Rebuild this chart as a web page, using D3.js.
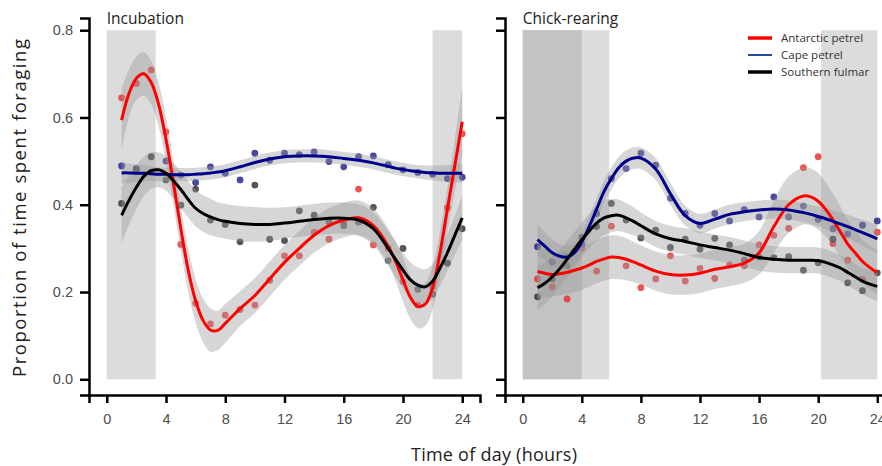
<!DOCTYPE html>
<html>
<head>
<meta charset="utf-8">
<script src="https://cdn.jsdelivr.net/npm/d3@7"></script>
<style>
body { margin: 0; background: #fff; }
svg { display: block; font-family: "Open Sans", "Noto Sans", sans-serif; }
.axis path, .axis line { stroke: #000; stroke-width: 2.5; }
.axis text { fill: #4d4d4d; font-size: 14.5px; }
</style>
</head>
<body>
<svg id="chart" width="882" height="466"></svg>
<script>
// hourly observations
let hours = [1, 2, 3, 4, 5, 6, 7, 8, 9, 10, 11, 12, 13, 14, 15, 16, 17, 18, 19, 20, 21, 22, 23, 24],
	// positions where the smoothed fits were read
	fitHours = [1, 1.5, 2, 2.5, 3, 3.5, 4, 4.5, 5, 5.5, 6, 6.5, 7, 7.5, 8, 9, 10, 11, 12, 13, 14, 15, 16, 17, 18, 19, 19.5, 20, 20.5, 21, 21.5, 22, 22.5, 23, 23.5, 24],
	xTicks = [0, 4, 8, 12, 16, 20, 24],
	yTicks = [0, 0.2, 0.4, 0.6, 0.8],
	species = ['Antarctic petrel', 'Cape petrel', 'Southern fulmar'],
	panelTitles = ['Incubation', 'Chick-rearing'];

// Incubation
let incRedPts = [0.645, 0.678, 0.709, 0.567, 0.309, 0.174, 0.127, 0.147, 0.16, 0.17, 0.227, 0.283, 0.283, 0.337, 0.321, 0.361, 0.436, 0.308, 0.30, 0.224, 0.17, 0.212, 0.393, 0.563],
	incBluePts = [0.489, 0.483, 0.475, 0.50, 0.468, 0.451, 0.487, 0.472, 0.457, 0.518, 0.502, 0.518, 0.515, 0.521, 0.499, 0.487, 0.51, 0.512, 0.492, 0.48, 0.474, 0.47, 0.46, 0.463],
	incBlackPts = [0.403, 0.48, 0.51, 0.457, 0.399, 0.436, 0.365, 0.355, 0.315, 0.445, 0.321, 0.318, 0.386, 0.376, 0.361, 0.352, 0.36, 0.394, 0.272, 0.30, 0.206, 0.195, 0.266, 0.345],
	incRedFit = [0.594, 0.655, 0.69, 0.70, 0.68, 0.63, 0.55, 0.45, 0.345, 0.25, 0.18, 0.135, 0.113, 0.112, 0.128, 0.162, 0.192, 0.23, 0.268, 0.30, 0.33, 0.352, 0.365, 0.37, 0.352, 0.305, 0.27, 0.228, 0.188, 0.167, 0.172, 0.21, 0.29, 0.39, 0.49, 0.59],
	incRedSe = [0.07, 0.055, 0.05, 0.05, 0.05, 0.05, 0.05, 0.05, 0.05, 0.05, 0.05, 0.05, 0.05, 0.045, 0.045, 0.04, 0.04, 0.04, 0.04, 0.04, 0.04, 0.04, 0.04, 0.04, 0.04, 0.04, 0.045, 0.05, 0.05, 0.05, 0.05, 0.05, 0.05, 0.05, 0.06, 0.08],
	incBlueFit = [0.473, 0.473, 0.472, 0.472, 0.471, 0.47, 0.47, 0.469, 0.469, 0.469, 0.47, 0.471, 0.473, 0.475, 0.478, 0.487, 0.497, 0.505, 0.51, 0.512, 0.512, 0.51, 0.506, 0.502, 0.496, 0.488, 0.484, 0.481, 0.478, 0.476, 0.474, 0.473, 0.472, 0.472, 0.472, 0.472],
	incBlueSe = [0.025, 0.022, 0.02, 0.018, 0.017, 0.016, 0.015, 0.015, 0.015, 0.015, 0.015, 0.015, 0.015, 0.015, 0.015, 0.015, 0.015, 0.015, 0.015, 0.015, 0.015, 0.015, 0.015, 0.015, 0.015, 0.015, 0.015, 0.015, 0.015, 0.015, 0.016, 0.017, 0.018, 0.019, 0.02, 0.022],
	incBlackFit = [0.376, 0.41, 0.44, 0.465, 0.478, 0.48, 0.472, 0.455, 0.435, 0.412, 0.392, 0.38, 0.372, 0.366, 0.362, 0.357, 0.355, 0.355, 0.358, 0.362, 0.366, 0.369, 0.369, 0.365, 0.345, 0.30, 0.275, 0.25, 0.228, 0.216, 0.212, 0.225, 0.255, 0.29, 0.33, 0.37],
	incBlackSe = [0.065, 0.055, 0.05, 0.045, 0.042, 0.04, 0.04, 0.04, 0.042, 0.042, 0.042, 0.042, 0.042, 0.04, 0.04, 0.04, 0.04, 0.038, 0.036, 0.036, 0.036, 0.036, 0.036, 0.036, 0.038, 0.04, 0.04, 0.04, 0.04, 0.04, 0.04, 0.04, 0.04, 0.042, 0.045, 0.05];

// Chick-rearing
let chkRedPts = [0.23, 0.211, 0.184, 0.30, 0.248, 0.351, 0.26, 0.21, 0.23, 0.283, 0.225, 0.254, 0.231, 0.262, 0.26, 0.308, 0.33, 0.346, 0.485, 0.51, 0.311, 0.273, 0.229, 0.337],
	chkBluePts = [0.304, 0.269, 0.28, 0.31, 0.38, 0.46, 0.483, 0.518, 0.491, 0.415, 0.38, 0.353, 0.38, 0.363, 0.389, 0.372, 0.418, 0.372, 0.397, 0.366, 0.345, 0.333, 0.353, 0.363],
	chkBlackPts = [0.189, 0.23, 0.26, 0.325, 0.35, 0.403, 0.365, 0.324, 0.342, 0.302, 0.321, 0.298, 0.323, 0.308, 0.273, 0.28, 0.279, 0.281, 0.25, 0.267, 0.321, 0.221, 0.203, 0.244],
	chkRedFit = [0.247, 0.243, 0.24, 0.242, 0.245, 0.25, 0.255, 0.262, 0.27, 0.276, 0.28, 0.279, 0.275, 0.269, 0.262, 0.248, 0.24, 0.239, 0.243, 0.252, 0.258, 0.266, 0.29, 0.35, 0.40, 0.42, 0.418, 0.408, 0.39, 0.365, 0.338, 0.31, 0.29, 0.27, 0.256, 0.245],
	chkRedSe = [0.06, 0.055, 0.05, 0.05, 0.05, 0.05, 0.05, 0.05, 0.05, 0.05, 0.05, 0.05, 0.048, 0.046, 0.045, 0.045, 0.045, 0.045, 0.045, 0.045, 0.045, 0.045, 0.05, 0.06, 0.065, 0.065, 0.065, 0.065, 0.062, 0.06, 0.058, 0.055, 0.052, 0.05, 0.05, 0.05],
	chkBlueFit = [0.32, 0.305, 0.29, 0.282, 0.28, 0.29, 0.315, 0.35, 0.39, 0.43, 0.46, 0.485, 0.50, 0.507, 0.507, 0.482, 0.425, 0.375, 0.357, 0.367, 0.378, 0.384, 0.388, 0.39, 0.388, 0.382, 0.378, 0.373, 0.368, 0.362, 0.356, 0.35, 0.343, 0.336, 0.329, 0.322],
	chkBlueSe = [0.035, 0.032, 0.03, 0.028, 0.027, 0.026, 0.025, 0.025, 0.025, 0.025, 0.025, 0.025, 0.025, 0.025, 0.025, 0.025, 0.025, 0.023, 0.022, 0.022, 0.022, 0.022, 0.022, 0.022, 0.022, 0.022, 0.022, 0.023, 0.024, 0.025, 0.026, 0.027, 0.028, 0.03, 0.031, 0.033],
	chkBlackFit = [0.21, 0.22, 0.235, 0.253, 0.275, 0.298, 0.32, 0.34, 0.358, 0.37, 0.375, 0.376, 0.37, 0.362, 0.352, 0.333, 0.322, 0.316, 0.308, 0.302, 0.296, 0.288, 0.279, 0.275, 0.273, 0.273, 0.273, 0.272, 0.268, 0.262, 0.255, 0.245, 0.235, 0.225, 0.218, 0.213],
	chkBlackSe = [0.05, 0.047, 0.045, 0.043, 0.042, 0.04, 0.04, 0.04, 0.04, 0.04, 0.038, 0.036, 0.034, 0.032, 0.03, 0.03, 0.03, 0.03, 0.03, 0.03, 0.03, 0.03, 0.03, 0.03, 0.03, 0.03, 0.03, 0.03, 0.03, 0.03, 0.03, 0.03, 0.03, 0.03, 0.032, 0.034];

// shaded night hours
let incNight = [[0, 3.3], [22.0, 24]],
	chkNight = [[0, 5.85], [20.2, 24]],
	chkDark = [[0, 4]];

let svg = d3.select('#chart'),
	colours = ['#ff0000', '#00008b', '#000000'],
	legendColours = ['#ff0000', '#2a4a9a', '#000000'],
	pointColours = ['#e8292b', '#1a1a8c', '#2b2b2b'],
	y = d3.scaleLinear().domain([-0.036, 0.828]).range([395, 18]);

let panels = [
	{
		title: panelTitles[0], range: [89, 480],
		night: incNight, dark: [],
		pts: [incRedPts, incBluePts, incBlackPts],
		fit: [incRedFit, incBlueFit, incBlackFit],
		se: [incRedSe, incBlueSe, incBlackSe],
		yLabels: true
	},
	{
		title: panelTitles[1], range: [505, 895],
		night: chkNight, dark: chkDark,
		pts: [chkRedPts, chkBluePts, chkBlackPts],
		fit: [chkRedFit, chkBlueFit, chkBlackFit],
		se: [chkRedSe, chkBlueSe, chkBlackSe],
		yLabels: false
	}
];

function drawPanel(p) {
	var x = d3.scaleLinear().domain([-1.2, 25.2]).range(p.range),
		g = svg.append('g'),
		line = d3.line()
			.x(function(d) { return x(d[0]); })
			.y(function(d) { return y(d[1]); })
			.curve(d3.curveCatmullRom.alpha(0.5)),
		area = d3.area()
			.x(function(d) { return x(d[0]); })
			.y0(function(d) { return y(d[1] - d[2]); })
			.y1(function(d) { return y(d[1] + d[2]); })
			.curve(d3.curveCatmullRom.alpha(0.5)),
		s;

	g.selectAll('rect.night')
		.data(p.night)
		.enter().append('rect')
			.attr('class', 'night')
			.attr('x', function(d) { return x(d[0]); })
			.attr('width', function(d) { return x(d[1]) - x(d[0]); })
			.attr('y', y(0.8))
			.attr('height', y(0) - y(0.8))
			.attr('fill', '#dcdcdc');

	g.selectAll('rect.dark')
		.data(p.dark)
		.enter().append('rect')
			.attr('class', 'dark')
			.attr('x', function(d) { return x(d[0]); })
			.attr('width', function(d) { return x(d[1]) - x(d[0]); })
			.attr('y', y(0.8))
			.attr('height', y(0) - y(0.8))
			.attr('fill', '#c3c3c3');

	// raw points
	for (s = 0; s < 3; s++) {
		g.append('g').selectAll('circle')
			.data(p.pts[s])
			.enter().append('circle')
				.attr('cx', function(d, i) { return x(hours[i]); })
				.attr('cy', function(d) { return y(d); })
				.attr('r', 3.4)
				.attr('fill', pointColours[s])
				.attr('fill-opacity', 0.8);
	}

	// confidence ribbons
	for (s = 0; s < 3; s++) {
		g.append('path')
			.datum(fitHours.map(function(h, i) { return [h, p.fit[s][i], p.se[s][i]]; }))
			.attr('d', area)
			.attr('fill', '#999999')
			.attr('fill-opacity', 0.4);
	}

	// fitted lines
	for (s = 0; s < 3; s++) {
		g.append('path')
			.datum(fitHours.map(function(h, i) { return [h, p.fit[s][i]]; }))
			.attr('d', line)
			.attr('fill', 'none')
			.attr('stroke', colours[s])
			.attr('stroke-width', 3);
	}

	g.append('g')
		.attr('class', 'axis')
		.attr('transform', 'translate(0,395)')
		.call(d3.axisBottom(x).tickValues(xTicks).tickSizeOuter(0).tickSize(8).tickPadding(8))
		.selectAll('text').attr('dy', '0.9em');

	var ya = g.append('g')
		.attr('class', 'axis')
		.attr('transform', 'translate(' + p.range[0] + ',0)')
		.call(d3.axisLeft(y).tickValues(yTicks).tickSizeOuter(0).tickSize(9).tickPadding(7)
			.tickFormat(d3.format('.1f')));
	if (!p.yLabels) {
		ya.selectAll('text').remove();
	}

	g.append('text')
		.attr('x', x(0))
		.attr('y', 24)
		.attr('font-size', 15.5)
		.attr('fill', '#222')
		.text(p.title);
}

panels.forEach(drawPanel);

// legend
let legend = svg.append('g').attr('transform', 'translate(748,38)');
species.forEach(function(name, i) {
	legend.append('line')
		.attr('x1', 0).attr('x2', 24)
		.attr('y1', i * 17).attr('y2', i * 17)
		.attr('stroke', legendColours[i])
		.attr('stroke-width', i === 1 ? 2 : 3.5);
	legend.append('text')
		.attr('x', 33).attr('y', i * 17)
		.attr('dy', '0.35em')
		.attr('font-size', 11.5)
		.attr('fill', '#333')
		.text(name);
});

// axis titles
svg.append('text')
	.attr('x', 494).attr('y', 461)
	.attr('text-anchor', 'middle')
	.attr('font-size', 18)
	.attr('textLength', 166)
	.attr('lengthAdjust', 'spacing')
	.attr('fill', '#222')
	.text('Time of day (hours)');

svg.append('text')
	.attr('transform', 'translate(26,208) rotate(-90)')
	.attr('text-anchor', 'middle')
	.attr('font-size', 18.5)
	.attr('textLength', 338)
	.attr('lengthAdjust', 'spacing')
	.attr('fill', '#222')
	.text('Proportion of time spent foraging');
</script>
</body>
</html>
